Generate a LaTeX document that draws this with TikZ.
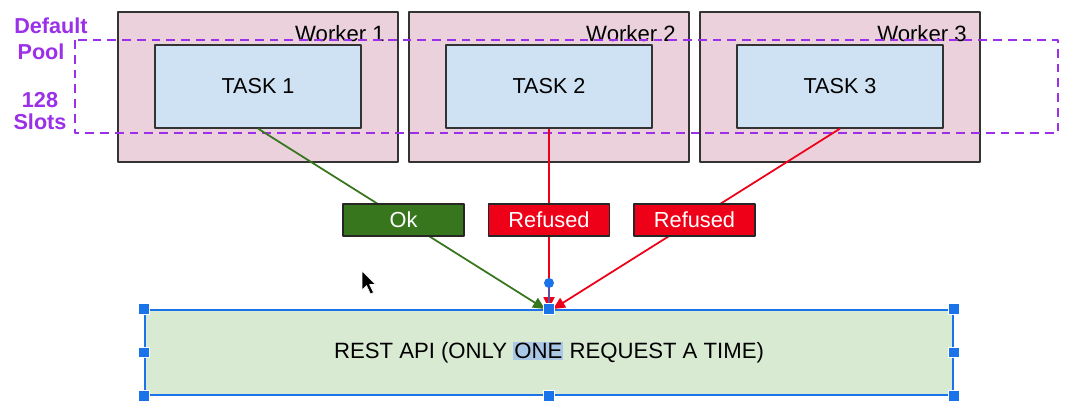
\documentclass[tikz,border=0pt]{standalone}
\usepackage{fontspec}
\setmainfont{Liberation Sans}
\usetikzlibrary{arrows.meta}
\definecolor{workerpink}{HTML}{EAD1DC}
\definecolor{taskblue}{HTML}{CFE2F3}
\definecolor{apigreen}{HTML}{D9EAD3}
\definecolor{okgreen}{HTML}{38761D}
\definecolor{refusedred}{HTML}{EE0018}
\definecolor{poolpurple}{HTML}{9B30E8}
\definecolor{selblue}{HTML}{1A73E8}
\definecolor{hiliteblue}{HTML}{AAC8E6}
\tikzset{
  worker/.style={draw=black!80, line width=0.7pt, fill=workerpink, minimum width=56mm, minimum height=30mm},
  task/.style={draw=black!80, line width=0.7pt, fill=taskblue, minimum width=41.2mm, minimum height=16.6mm, font=\fontsize{12.3}{14}\selectfont},
  wlabel/.style={inner sep=0pt, font=\fontsize{12.6}{14}\selectfont},
  verdict/.style={draw=black!85, line width=0.7pt, text=white, minimum width=24.2mm, minimum height=6.4mm, inner sep=0pt, font=\fontsize{12.4}{14}\selectfont},
  poollabel/.style={text=poolpurple, inner sep=0pt, font=\bfseries\fontsize{12.3}{14}\selectfont},
  handle/.style={fill=selblue, draw=white, line width=0.4pt, minimum size=2.1mm, inner sep=0pt},
  reply/.style={line width=1pt, -{Triangle[length=2.4mm, width=2.2mm]}},
}
\begin{document}
\begin{tikzpicture}[x=0.2mm, y=-0.2mm, line join=round]
  \useasboundingbox[fill=white] (0,0) rectangle (1067,408);
  % ==================== WORKERS ====================
  \foreach \i/\x in {1/258, 2/549, 3/840} {
    \node[worker] (w\i) at (\x, 87) {};
    \node[wlabel, anchor=east] (wl\i) at (\x+127, 34) {Worker \i};
    \node[task] (t\i) at (\x, 86.5) {TASK \i};
  }
  % ==================== POOL ====================
  \draw[poolpurple, line width=1.1pt, dash pattern=on 5pt off 3.4pt] (75,40) rectangle (1058,133);
  \node[poollabel] (pl1) at (51,26) {Default};
  \node[poollabel] (pl2) at (41,52) {Pool};
  \node[poollabel] (pl3) at (40,100) {128};
  \node[poollabel] (pl4) at (40,122) {Slots};
  % ==================== REST API ====================
  \node[draw=selblue, line width=1.1pt, fill=apigreen, minimum width=161.6mm, minimum height=17mm,
        font=\fontsize{12.6}{14}\selectfont] (api) at (549,352.5)
        {REST API (ONLY {\setlength\fboxsep{0.6pt}\colorbox{hiliteblue}{ONE}} REQUEST A TIME)};
  % ==================== REPLIES ====================
  \draw[reply, okgreen] (t1.south) -- ([xshift=-0.8mm]api.north);
  \draw[reply, refusedred] (t2.south) -- (api.north);
  \draw[reply, refusedred] (t3.south) -- ([xshift=0.8mm]api.north);
  \node[verdict, fill=okgreen] (ok) at (403.5,220) {Ok};
  \node[verdict, fill=refusedred] (no2) at (549,220) {Refused};
  \node[verdict, fill=refusedred] (no3) at (694.5,220) {Refused};
  % ==================== SELECTION ====================
  \node[circle, fill=selblue, minimum size=2mm, inner sep=0pt] (rot) at (549,283) {};
  \draw[selblue!70!refusedred, line width=0.8pt] (rot) -- (api.north);
  \foreach \a [count=\k] in {north west, north, north east, west, east, south west, south, south east}
    \node[handle] (h\k) at (api.\a) {};
  % cursor
  \filldraw[black, draw=white, line width=0.3pt] (362,271) -- (362,290) -- (366.5,285.5) -- (370.5,294)
    -- (373.5,292.5) -- (369.5,284.5) -- (375.5,284.5) -- cycle;
\end{tikzpicture}
\end{document}
